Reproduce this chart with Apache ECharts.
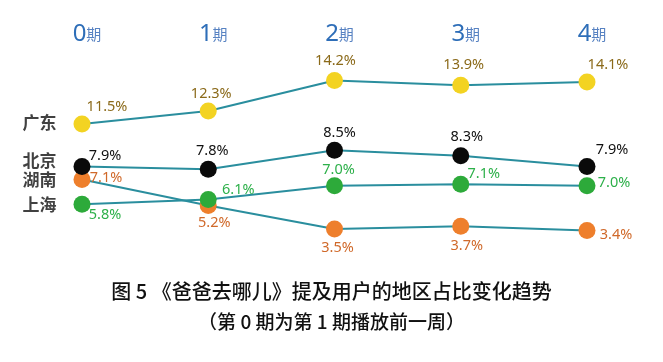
<!DOCTYPE html>
<html>
<head>
<meta charset="utf-8">
<script src="https://cdn.jsdelivr.net/npm/echarts@6/dist/echarts.min.js"></script>
<style>
html,body{margin:0;padding:0;background:#fff;}
#c{width:663px;height:362px;}
</style>
</head>
<body>
<div id="c"></div>
<script>
// ---- data ----
const periods = ['0期', '1期', '2期', '3期', '4期'];
const regions = ['广东', '北京', '湖南', '上海'];
const guangdong = [11.5, 12.3, 14.2, 13.9, 14.1];
const beijing = [7.9, 7.8, 8.5, 8.3, 7.9];
const hunan = [7.1, 5.2, 3.5, 3.7, 3.4];
const shanghai = [5.8, 6.1, 7.0, 7.1, 7.0];
const titleText = '图 5 《爸爸去哪儿》提及用户的地区占比变化趋势';
const subText = '（第 0 期为第 1 期播放前一周）';

// ---- styles ----
const lineColor = '#2A8E9E';
const pointColors = ['#F3D322', '#0A0A0A', '#EE7F2C', '#2DAA3A'];
const labelColors = ['#8B6A1A', '#111111', '#D0692A', '#2DB04A'];
// per-series axis ranges (each region has its own hidden scale)
const axisRanges = [[3.06, 15.47], [4.42, 11.86], [1.25, 15.77], [2.14, 15.25]];
// label offsets relative to point centre
const labelOffsets = [
  [[25, -17], [3, -17], [1, -20], [3, -20], [21, -17]],
  [[23, -11], [4, -18], [5, -17], [6, -19], [25, -17]],
  [[24, -2], [6, 17], [3, 19], [6, 20], [29, 4]],
  [[23, 11], [30, -10], [4, -16], [23, -10], [27, -3]]
];
const nameOffsets = [[0, -1], [0, -6], [0, 0], [0, 0]];
const seriesValues = [guangdong, beijing, hunan, shanghai];
const drawOrder = [2, 3, 1, 0];

const chart = echarts.init(document.getElementById('c'), null, {renderer: 'canvas'});

const series = [];
drawOrder.forEach(function (i) {
  series.push({
    type: 'line',
    name: regions[i],
    yAxisIndex: i,
    data: seriesValues[i].map(function (v, k) {
      return {
        value: v,
        label: {offset: labelOffsets[i][k]}
      };
    }),
    symbol: 'circle',
    symbolSize: 17,
    lineStyle: {color: lineColor, width: 2},
    itemStyle: {color: pointColors[i], borderWidth: 0},
    label: {
      show: true,
      position: 'inside',
      color: labelColors[i],
      fontFamily: 'Noto Sans',
      fontSize: 14.5,
      formatter: function (p) { return p.value.toFixed(1) + '%'; }
    },
    emphasis: {disabled: true},
    animation: false,
    z: 2
  });
});
regions.forEach(function (r, i) {
  series.push({
    type: 'scatter',
    yAxisIndex: i,
    data: [[periods[0], seriesValues[i][0]]],
    symbolSize: 17,
    itemStyle: {color: 'rgba(0,0,0,0)'},
    label: {
      show: true,
      position: 'left',
      distance: 17,
      offset: nameOffsets[i],
      formatter: r,
      color: '#111',
      fontFamily: 'Noto Sans CJK SC',
      fontWeight: 'bold',
      fontSize: 17
    },
    emphasis: {disabled: true},
    silent: true,
    animation: false,
    z: 1
  });
});

const yAxes = axisRanges.map(function (r) {
  return {type: 'value', min: r[0], max: r[1], show: false, splitLine: {show: false}};
});

chart.setOption({
  backgroundColor: '#fff',
  animation: false,
  title: [
    {
      text: titleText,
      left: 'center',
      top: 276,
      textStyle: {fontFamily: 'Noto Sans CJK SC', fontSize: 20, fontWeight: 500, color: '#111'}
    },
    {
      text: subText,
      left: 'center',
      top: 307,
      textStyle: {fontFamily: 'Noto Sans CJK SC', fontSize: 19, fontWeight: 500, color: '#111'}
    }
  ],
  grid: {left: 82, right: 76, top: 60, bottom: 102, containLabel: false},
  xAxis: {
    type: 'category',
    position: 'top',
    data: periods,
    boundaryGap: false,
    axisLine: {show: false},
    axisTick: {show: false},
    splitLine: {show: false},
    axisLabel: {
      margin: 14,
      padding: [0, 0, 0, 10],
      formatter: function (v) {
        return v.replace(/^(\d+)(.*)$/, '{n|$1}{q|$2}');
      },
      rich: {
        n: {fontFamily: 'Noto Sans', fontSize: 24, color: '#2E6EB8', verticalAlign: 'bottom', lineHeight: 28},
        q: {fontFamily: 'Noto Sans CJK SC', fontSize: 15, color: '#5782C2', verticalAlign: 'bottom', lineHeight: 20, padding: [0, 0, 4, 0]}
      }
    }
  },
  yAxis: yAxes,
  series: series
});
</script>
</body>
</html>
